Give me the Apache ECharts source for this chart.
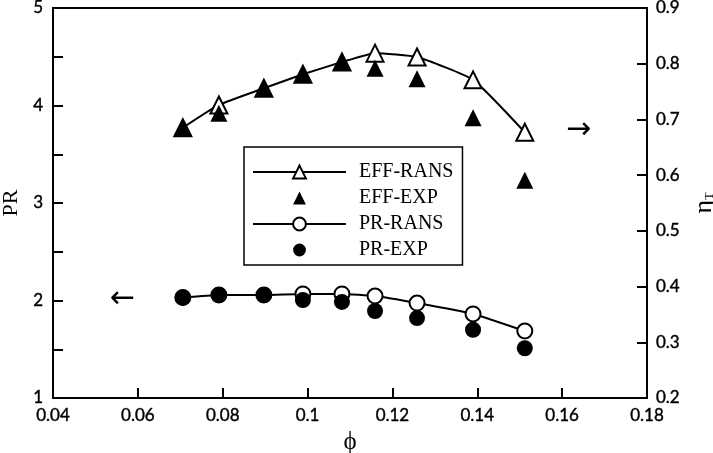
<!DOCTYPE html>
<html>
<head>
<meta charset="utf-8">
<script src="https://cdn.jsdelivr.net/npm/echarts@6/dist/echarts.min.js"></script>
<style>html,body{margin:0;padding:0;background:#fff}#c{width:713px;height:453px}</style>
</head>
<body>
<div id="c"></div>
<script>
const phi = [0.0706, 0.0791, 0.0897, 0.0989, 0.1081, 0.1159, 0.1258, 0.1390, 0.1512];
const effRans = [0.685, 0.726, 0.756, 0.781, 0.803, 0.819, 0.812, 0.771, 0.677];
const effExp = [0.685, 0.711, 0.756, 0.781, 0.803, 0.792, 0.773, 0.703, 0.591];
const prRans = [2.030, 2.056, 2.056, 2.067, 2.067, 2.046, 1.974, 1.862, 1.687];
const prExp = [2.029, 2.056, 2.056, 2.005, 1.985, 1.892, 1.820, 1.700, 1.510];
const seriesNames = ['EFF-RANS', 'EFF-EXP', 'PR-RANS', 'PR-EXP'];

const pairs = (ys) => phi.map((x, i) => [x, ys[i]]);
const tickFont = {fontFamily: 'Lato', fontSize: 17, color: '#000', textBorderColor: '#000', textBorderWidth: 0.4};
const axisLine = {show: true, onZero: false, lineStyle: {color: '#000', width: 2}};
const hiddenLine = {width: 0, opacity: 0};

const chart = echarts.init(document.getElementById('c'), null, {renderer: 'canvas'});
chart.setOption({
  animation: false,
  backgroundColor: '#fff',
  grid: {left: 53, right: 66, top: 8, bottom: 55, outerBoundsMode: 'none'},
  legend: {
    orient: 'vertical', left: 244, top: 147,
    data: seriesNames,
    borderColor: '#000', borderWidth: 1.5,
    padding: [15, 9, 5, 8],
    itemWidth: 93, itemHeight: 16, itemGap: 6,
    textStyle: {fontFamily: 'Liberation Serif', fontSize: 20, color: '#000', padding: [0, 0, 0, 8]}
  },
  xAxis: [{
    type: 'value', min: 0.04, max: 0.18, interval: 0.02,
    name: 'ϕ', nameLocation: 'middle', nameGap: 32,
    nameTextStyle: {fontFamily: 'Liberation Serif', fontSize: 25, color: '#000'},
    axisLine: axisLine,
    axisTick: {show: true, inside: true, length: 10, lineStyle: {color: '#000', width: 2}},
    axisLabel: Object.assign({margin: 9, formatter: v => String(+v.toFixed(2))}, tickFont),
    splitLine: {show: false}
  }, {
    type: 'value', position: 'top', min: 0.04, max: 0.18,
    axisLine: axisLine, axisTick: {show: false}, axisLabel: {show: false}, splitLine: {show: false}
  }],
  yAxis: [{
    type: 'value', min: 1, max: 5, interval: 0.5, position: 'left',
    name: 'PR', nameLocation: 'middle', nameGap: 30,
    nameTextStyle: {fontFamily: 'Liberation Serif', fontSize: 22, color: '#000'},
    axisLine: axisLine,
    axisTick: {show: true, inside: true, length: 10, lineStyle: {color: '#000', width: 2}},
    axisLabel: Object.assign({margin: 10, formatter: v => (Math.abs(v - Math.round(v)) < 1e-9 ? String(v) : '')}, tickFont),
    splitLine: {show: false}
  }, {
    type: 'value', min: 0.2, max: 0.9, interval: 0.1, position: 'right',
    name: '{a|η}{b|T}', nameLocation: 'middle', nameGap: 40,
    nameTextStyle: {rich: {
      a: {fontFamily: 'Liberation Serif', fontSize: 26, color: '#000'},
      b: {fontFamily: 'Liberation Serif', fontSize: 12, color: '#000', padding: [12, 0, 0, 0]}
    }},
    axisLine: axisLine,
    axisTick: {show: true, inside: true, length: 10, lineStyle: {color: '#000', width: 2}},
    axisLabel: Object.assign({margin: 9, formatter: v => v.toFixed(1)}, tickFont),
    splitLine: {show: false}
  }],
  series: [{
    name: 'EFF-RANS', type: 'line', xAxisIndex: 0, yAxisIndex: 1, z: 2,
    data: pairs(effRans), smooth: 0.15,
    symbol: 'triangle', symbolSize: 17, showAllSymbol: true,
    lineStyle: {color: '#000', width: 2},
    itemStyle: {color: '#fff', borderColor: '#000', borderWidth: 2}
  }, {
    name: 'EFF-EXP', type: 'line', xAxisIndex: 0, yAxisIndex: 1, z: 3,
    data: pairs(effExp), lineStyle: hiddenLine,
    symbol: 'triangle', symbolSize: 17, showAllSymbol: true,
    itemStyle: {color: '#000', borderColor: '#000', borderWidth: 0, opacity: 1}
  }, {
    name: 'PR-RANS', type: 'line', xAxisIndex: 0, yAxisIndex: 0, z: 2,
    data: pairs(prRans), smooth: 0.15,
    symbol: 'circle', symbolSize: 15, showAllSymbol: true,
    lineStyle: {color: '#000', width: 2},
    itemStyle: {color: '#fff', borderColor: '#000', borderWidth: 2}
  }, {
    name: 'PR-EXP', type: 'line', xAxisIndex: 0, yAxisIndex: 0, z: 3,
    data: pairs(prExp), lineStyle: hiddenLine,
    symbol: 'circle', symbolSize: 16, showAllSymbol: true,
    itemStyle: {color: '#000', borderColor: '#000', borderWidth: 0, opacity: 1}
  }],
  graphic: [{
    type: 'text', left: 110, top: 284,
    style: {text: '←', font: '30px "DejaVu Sans"', fill: '#000'}
  }, {
    type: 'text', left: 566, top: 115,
    style: {text: '→', font: '30px "DejaVu Sans"', fill: '#000'}
  }]
});
</script>
</body>
</html>
